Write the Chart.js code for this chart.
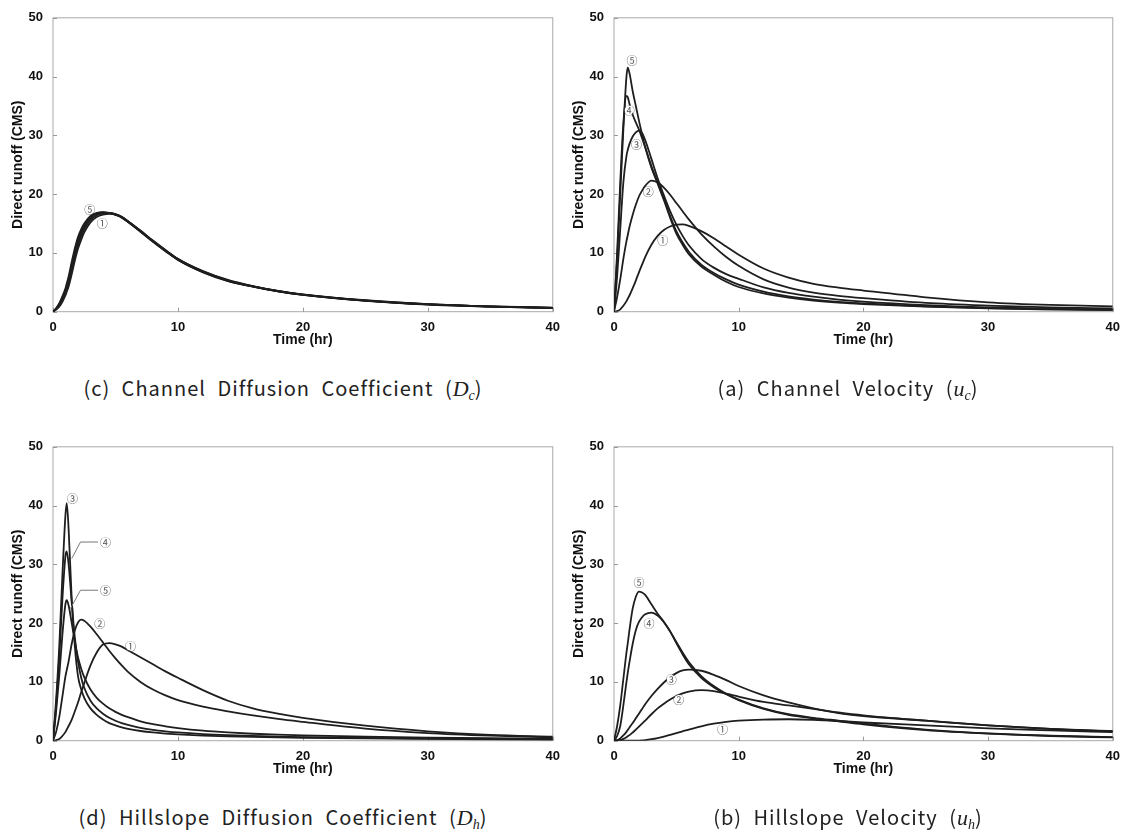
<!DOCTYPE html>
<html>
<head>
<meta charset="utf-8">
<script src="https://cdn.jsdelivr.net/npm/chart.js@4.4.1/dist/chart.umd.min.js"></script>
<style>
  html, body { margin: 0; padding: 0; background: #fff; }
  #wrap { position: relative; width: 1133px; height: 835px; overflow: hidden; background: #fff; }
  canvas { position: absolute; }
  .cap { position: absolute; text-align: center; font-family: "Noto Sans CJK KR", "Noto Sans", sans-serif;
         font-size: 20px; line-height: 24px; color: #222; letter-spacing: 1px; word-spacing: 6px; white-space: nowrap; }
  .cap i { font-family: "Liberation Serif", "DejaVu Serif", serif; font-style: italic; font-size: 22px; letter-spacing: 0; }
  .cap sub { font-family: "Liberation Serif", "DejaVu Serif", serif; font-style: italic; font-size: 14px; vertical-align: -4px; letter-spacing: 0; }
</style>
</head>
<body>
<div id="wrap">
  <canvas id="cTL" width="568" height="365" style="left:0px;top:0px"></canvas>
  <canvas id="cTR" width="567" height="365" style="left:561px;top:0px"></canvas>
  <canvas id="cBL" width="568" height="365" style="left:0px;top:429px"></canvas>
  <canvas id="cBR" width="567" height="365" style="left:561px;top:429px"></canvas>
  <div class="cap" style="left:0px;width:566px;top:376px">(c) Channel Diffusion Coefficient (<i>D</i><sub>c</sub>)</div>
  <div class="cap" style="left:566px;width:564px;top:376px">(a) Channel Velocity (<i>u</i><sub>c</sub>)</div>
  <div class="cap" style="left:0px;width:566px;top:805px">(d) Hillslope Diffusion Coefficient (<i>D</i><sub>h</sub>)</div>
  <div class="cap" style="left:566px;width:564px;top:805px">(b) Hillslope Velocity (<i>u</i><sub>h</sub>)</div>
</div>
<script>
// ---- time axis (hr) ----
const TIME = [0,0.25,0.5,0.75,1,1.1,1.25,1.5,1.75,2,2.25,2.5,3,3.5,4,4.5,5,5.5,6,7,8,9,10,12,14,16,18,20,25,30,35,40];
const X_TICKS = [0,10,20,30,40];
const Y_TICKS = [0,10,20,30,40,50];

// ---- (c) Channel Diffusion Coefficient Dc ----
const DC_1 = [0,0.35,0.85,1.7,2.8,3.4,4.3,6.4,8.7,10.7,12.2,13.5,15.2,16.1,16.5,16.65,16.55,16.1,15.4,13.8,12.1,10.5,9.0,6.9,5.4,4.35,3.55,2.95,1.95,1.3,0.92,0.68];
const DC_2 = [0,0.45,1.0,2.0,3.2,3.8,4.8,7.0,9.3,11.3,12.8,14.0,15.6,16.4,16.75,16.8,16.6,16.15,15.4,13.75,12.05,10.45,8.95,6.85,5.35,4.32,3.52,2.92,1.92,1.28,0.9,0.66];
const DC_3 = [0,0.5,1.15,2.2,3.45,4.1,5.2,7.5,9.8,11.8,13.2,14.4,15.9,16.6,16.85,16.8,16.55,16.1,15.35,13.7,12.0,10.4,8.9,6.8,5.3,4.3,3.5,2.9,1.9,1.26,0.88,0.65];
const DC_4 = [0,0.55,1.3,2.4,3.7,4.4,5.6,8.0,10.3,12.2,13.6,14.7,16.1,16.7,16.9,16.8,16.5,16.05,15.3,13.65,11.95,10.35,8.85,6.75,5.25,4.26,3.48,2.88,1.88,1.24,0.87,0.63];
const DC_5 = [0,0.6,1.4,2.6,4.0,4.8,6.0,8.5,10.8,12.7,14.0,15.0,16.3,16.8,16.95,16.75,16.45,16.0,15.25,13.6,11.9,10.3,8.8,6.7,5.2,4.25,3.45,2.85,1.85,1.2,0.85,0.6];

// ---- (a) Channel Velocity uc ----
const UC_1 = [0,0.1,0.4,1.0,1.8,2.2,2.8,4.0,5.3,6.7,8.0,9.3,11.4,12.9,13.9,14.5,14.8,14.85,14.6,13.7,12.5,11.1,9.7,7.35,5.8,4.75,4.1,3.6,2.45,1.6,1.15,0.9];
const UC_2 = [0,2.5,5.5,9,12,13,14.5,16.5,18.2,19.6,20.6,21.4,22.3,22.0,21.1,19.9,18.5,17.1,15.7,13.2,11.1,9.3,7.8,5.5,4.1,3.25,2.7,2.3,1.5,1.05,0.75,0.55];
const UC_3 = [0,6,14,22,26.5,27.5,28.6,29.8,30.5,30.8,30.4,29.2,26,22.7,19.8,17.1,14.8,12.9,11.3,9.0,7.5,6.4,5.6,4.15,3.2,2.55,2.05,1.7,1.1,0.72,0.5,0.36];
const UC_4 = [0,10,22,32,36.7,36.5,35.3,33.5,32.2,31,29.5,28,24.8,22,19.2,16.3,13.7,11.8,10.2,8.0,6.6,5.5,4.6,3.4,2.6,2.05,1.65,1.4,0.9,0.6,0.42,0.32];
const UC_5 = [0,9,20,31,40,41.5,40.5,37.5,35,32.5,30.2,28,24.5,21.8,19,16,13.3,11.4,9.8,7.7,6.3,5.1,4.2,3.1,2.4,1.9,1.55,1.3,0.85,0.55,0.4,0.3];

// ---- (d) Hillslope Diffusion Coefficient Dh ----
const DH_1 = [0,0.1,0.3,0.8,1.5,1.9,2.5,3.6,5.0,6.5,8.2,9.8,12.8,15.0,16.35,16.6,16.4,16.0,15.4,14.2,13.0,11.8,10.7,8.6,6.8,5.5,4.6,3.9,2.55,1.6,1.0,0.7];
const DH_2 = [0,1.5,4,7.5,11,12,13.5,16.5,18.8,20.1,20.6,20.4,19.4,18.1,16.7,15.3,14.0,12.8,11.7,10.0,8.7,7.7,6.9,5.8,5.0,4.3,3.7,3.2,2.05,1.3,0.85,0.55];
const DH_3 = [0,7,16,28,38.5,40.4,36,24,16,11,8.8,7.3,5.5,4.4,3.6,3.0,2.6,2.25,2.0,1.65,1.4,1.22,1.08,0.88,0.74,0.64,0.56,0.5,0.38,0.3,0.24,0.2];
const DH_4 = [0,6,14,24,31.5,32.2,30,23.5,17.5,13.5,10.8,9.0,6.8,5.5,4.6,3.9,3.4,3.0,2.7,2.2,1.85,1.6,1.4,1.12,0.93,0.8,0.7,0.62,0.47,0.37,0.3,0.25];
const DH_5 = [0,5,11,18,23.3,23.9,23,20,16.8,14.2,12.3,10.8,8.7,7.3,6.3,5.5,4.9,4.4,4.0,3.3,2.8,2.45,2.15,1.7,1.4,1.18,1.02,0.9,0.68,0.53,0.42,0.35];

// ---- (b) Hillslope Velocity uh ----
const UH_1 = [0,0,0,0,0,0,0,0,0,0.02,0.05,0.1,0.25,0.45,0.7,1.0,1.3,1.6,1.9,2.45,2.9,3.2,3.4,3.6,3.65,3.55,3.35,3.1,2.6,2.1,1.75,1.45];
const UH_2 = [0,0.02,0.1,0.3,0.6,0.75,0.95,1.4,1.9,2.4,2.9,3.4,4.5,5.5,6.3,7.0,7.6,8.05,8.35,8.6,8.45,8.0,7.5,6.6,6.0,5.4,4.8,4.3,3.4,2.6,2.0,1.65];
const UH_3 = [0,0.1,0.4,0.9,1.5,1.8,2.3,3.0,3.8,4.6,5.4,6.2,7.6,8.8,9.9,10.8,11.5,11.95,12.1,11.9,11.2,10.3,9.3,7.7,6.5,5.5,4.7,4.2,3.4,2.6,2.0,1.6];
const UH_4 = [0,0.8,2.5,6,10,11.5,13.5,16.5,18.8,20.2,21.0,21.5,21.8,21.3,20.2,18.6,16.8,15.0,13.4,11.0,9.3,8.0,7.0,5.5,4.5,3.9,3.4,2.9,1.9,1.25,0.85,0.6];
const UH_5 = [0,2.5,6,10.5,15,16.5,19,22.5,24.5,25.35,25.2,24.8,23.2,21.6,20.2,18.6,16.6,14.7,13.0,10.7,9.1,7.9,6.9,5.4,4.4,3.8,3.3,2.8,1.8,1.2,0.8,0.55];

// ---- circled curve labels: [time, runoff, text] ----
const LBL_DC = [[3.95,15.0,'①'],[2.95,17.5,'⑤']];
const LBL_UC = [[3.9,12.1,'①'],[2.75,20.5,'②'],[1.8,28.4,'③'],[1.22,34.3,'④'],[1.45,42.8,'⑤']];
const LBL_DH = [[6.2,16.1,'①'],[3.75,19.9,'②'],[1.56,41.2,'③'],[4.2,33.8,'④'],[4.2,25.6,'⑤']];
const LBL_UH = [[8.7,1.9,'①'],[5.2,7.0,'②'],[4.6,10.4,'③'],[2.8,19.9,'④'],[2.0,27.0,'⑤']];
// leader lines in (d): lists of [time, runoff]
const LEAD_DH = [[[1.5,31.0],[2.2,33.8],[3.6,33.8]], [[1.4,22.5],[2.2,25.6],[3.6,25.6]]];

const AXIS_FONT = "'Liberation Sans', Arial, Helvetica, sans-serif";
const LABEL_FONT = "'Noto Sans CJK KR', 'DejaVu Sans', sans-serif";

const marksPlugin = {
  id: 'marks',
  beforeDatasetsDraw(chart) {
    const {ctx, chartArea: a, scales: {x, y}} = chart;
    ctx.save();
    ctx.strokeStyle = '#a9a9a9';
    ctx.lineWidth = 1;
    ctx.strokeRect(a.left, a.top, a.right - a.left, a.bottom - a.top);
    ctx.strokeStyle = '#999';
    ctx.beginPath();
    for (const t of x.ticks) {
      const px = Math.round(x.getPixelForValue(t.value)) + 0.5;
      ctx.moveTo(px, a.bottom); ctx.lineTo(px, a.bottom - 4);
    }
    for (const t of y.ticks) {
      const py = Math.round(y.getPixelForValue(t.value)) + 0.5;
      ctx.moveTo(a.left, py); ctx.lineTo(a.left + 4, py);
    }
    ctx.stroke();
    ctx.restore();
  },
  afterDatasetsDraw(chart, args, opts) {
    const {ctx, scales: {x, y}} = chart;
    ctx.save();
    ctx.strokeStyle = '#777';
    ctx.lineWidth = 1;
    for (const path of (opts.leaders || [])) {
      ctx.beginPath();
      path.forEach((p, i) => {
        const px = x.getPixelForValue(p[0]), py = y.getPixelForValue(p[1]);
        if (i === 0) ctx.moveTo(px, py); else ctx.lineTo(px, py);
      });
      ctx.stroke();
    }
    ctx.font = "11px " + LABEL_FONT;
    ctx.textAlign = 'center';
    ctx.textBaseline = 'middle';
    for (const [t, v, s] of (opts.labels || [])) {
      const px = x.getPixelForValue(t), py = y.getPixelForValue(v);
      ctx.fillStyle = '#fff';
      ctx.beginPath(); ctx.arc(px, py, 4.5, 0, Math.PI * 2); ctx.fill();
      ctx.fillStyle = '#555';
      ctx.fillText(s, px, py + 0.5);
    }
    ctx.restore();
  }
};

function makeChart(id, series, labels, leaders) {
  return new Chart(document.getElementById(id), {
    type: 'line',
    data: {
      datasets: series.map(s => ({
        data: TIME.map((t, i) => ({x: t, y: s[i]})),
        borderColor: '#1e1e1e',
        borderWidth: 1.8,
        pointRadius: 0,
        fill: false,
        cubicInterpolationMode: 'monotone'
      }))
    },
    options: {
      responsive: false,
      animation: false,
      events: [],
      layout: {padding: {top: 12.7, right: 10, left: 0, bottom: 0}},
      plugins: {
        legend: {display: false},
        tooltip: {enabled: false},
        marks: {labels: labels, leaders: leaders}
      },
      scales: {
        x: {
          type: 'linear', min: 0, max: 40,
          afterBuildTicks: s => { s.ticks = X_TICKS.map(v => ({value: v})); },
          ticks: {padding: 8, color: '#111', maxRotation: 0,
                  font: {family: AXIS_FONT, size: 13, weight: 'bold'}},
          grid: {display: false, drawTicks: false},
          border: {display: false},
          title: {display: true, text: 'Time (hr)', color: '#111',
                  font: {family: AXIS_FONT, size: 14, weight: 'bold'},
                  padding: {top: 0, bottom: 16.6}},
          afterFit: s => { s.height = 53.3; }
        },
        y: {
          min: 0, max: 50,
          afterBuildTicks: s => { s.ticks = Y_TICKS.map(v => ({value: v})); },
          ticks: {padding: 10, color: '#111',
                  font: {family: AXIS_FONT, size: 13, weight: 'bold'}},
          grid: {display: false, drawTicks: false},
          border: {display: false},
          title: {display: true, text: 'Direct runoff (CMS)', color: '#111',
                  font: {family: AXIS_FONT, size: 14, weight: 'bold'},
                  padding: {top: 9.6, bottom: 0}},
          afterFit: s => { s.width = 53; }
        }
      }
    },
    plugins: [marksPlugin]
  });
}

makeChart('cTL', [DC_1, DC_2, DC_3, DC_4, DC_5], LBL_DC, []);
makeChart('cTR', [UC_1, UC_2, UC_3, UC_4, UC_5], LBL_UC, []);
makeChart('cBL', [DH_1, DH_2, DH_3, DH_4, DH_5], LBL_DH, LEAD_DH);
makeChart('cBR', [UH_1, UH_2, UH_3, UH_4, UH_5], LBL_UH, []);
</script>
</body>
</html>
